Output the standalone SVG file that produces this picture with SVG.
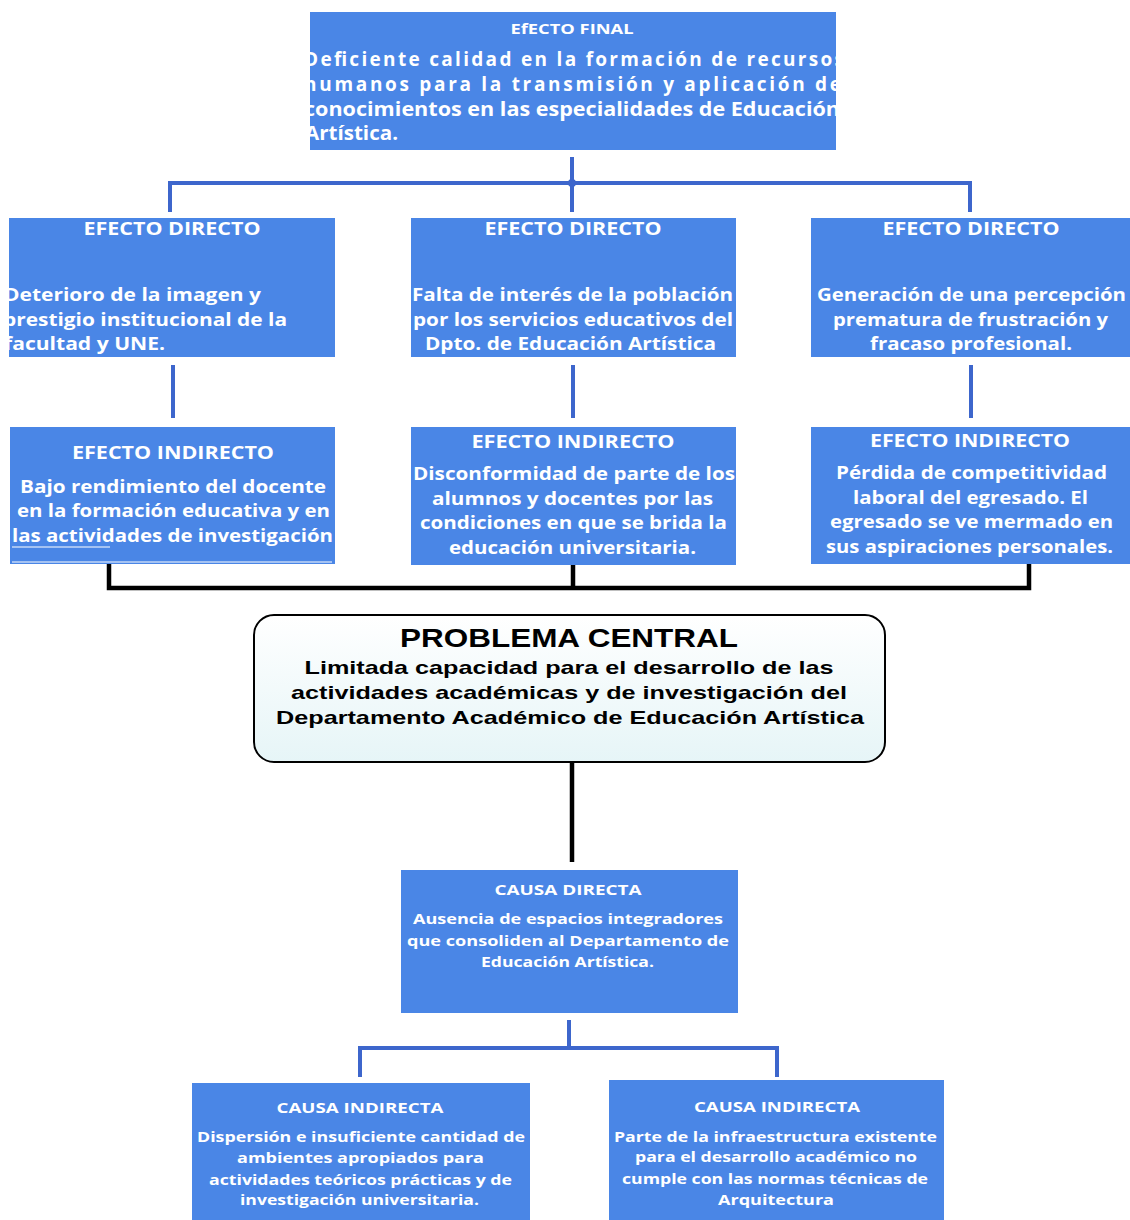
<svg xmlns="http://www.w3.org/2000/svg" width="1130" height="1220" viewBox="0 0 1130 1220">
<defs>
<style>
.box{fill:#4a86e6;}
.t{font-family:"Open Sans",Lato,"Liberation Sans",sans-serif;font-weight:700;fill:#ffffff;}
.h{font-size:18px;text-anchor:middle;}
.b{font-size:18px;}
.s{font-size:14.5px;}
.c{font-family:"Liberation Sans",Arial,sans-serif;font-weight:bold;fill:#000000;text-anchor:middle;}
.blue{stroke:#3d66cc;stroke-width:4;fill:none;}
.black{stroke:#000000;stroke-width:4.5;fill:none;}
</style>
<linearGradient id="pg" x1="0" y1="0" x2="0" y2="1">
<stop offset="0" stop-color="#ffffff"/>
<stop offset="1" stop-color="#e6f5f7"/>
</linearGradient>
<clipPath id="cf"><rect x="310" y="12" width="526" height="138"/></clipPath>
<clipPath id="cl"><rect x="9" y="218" width="326" height="139"/></clipPath>
<clipPath id="cr"><rect x="811" y="218" width="319" height="139"/></clipPath>
</defs>
<rect width="1130" height="1220" fill="#ffffff"/>

<g id="connectors">
<path class="blue" d="M572,157 V212 M170,212 V183 H970 V212"/>
<circle cx="572" cy="183" r="4" fill="#3d66cc"/>
<path class="blue" d="M173,365 V418 M573,365 V418 M971,365 V418"/>
<path class="black" d="M109,547 V588 H1029 V553 M573,553 V588"/>
<path class="black" stroke-width="5" d="M572,762 V862"/>
<path class="blue" d="M569,1020 V1048 M360,1077 V1048 H777 V1077"/>
</g>

<g id="efecto-final">
<rect class="box" x="310" y="12" width="526" height="138"/>
<text class="t" x="572" y="34" font-size="15" text-anchor="middle" textLength="123" lengthAdjust="spacingAndGlyphs">EfECTO FINAL</text>
<g clip-path="url(#cf)">
<text class="t" font-size="19" x="304" y="66" textLength="540" lengthAdjust="spacing">Deficiente calidad en la formación de recursos</text>
<text class="t" font-size="19" x="304" y="91" textLength="537" lengthAdjust="spacing">humanos para la transmisión y aplicación de</text>
<text class="t" font-size="19" x="304" y="116" textLength="536" lengthAdjust="spacingAndGlyphs">conocimientos en las especialidades de Educación</text>
<text class="t" font-size="19" x="305" y="140" textLength="93" lengthAdjust="spacingAndGlyphs">Artística.</text>
</g>
</g>

<g id="efecto-directo-1">
<rect class="box" x="9" y="218" width="326" height="139"/>
<text class="t h" x="172" y="235" textLength="177" lengthAdjust="spacingAndGlyphs">EFECTO DIRECTO</text>
<g clip-path="url(#cl)">
<text class="t b" x="4" y="301" textLength="257" lengthAdjust="spacingAndGlyphs">Deterioro de la imagen y</text>
<text class="t b" x="3" y="326" textLength="284" lengthAdjust="spacingAndGlyphs">prestigio institucional de la</text>
<text class="t b" x="4" y="350" textLength="161" lengthAdjust="spacingAndGlyphs">facultad y UNE.</text>
</g>
</g>

<g id="efecto-directo-2">
<rect class="box" x="411" y="218" width="325" height="139"/>
<text class="t h" x="573" y="235" textLength="177" lengthAdjust="spacingAndGlyphs">EFECTO DIRECTO</text>
<text class="t b" x="412" y="301" textLength="321" lengthAdjust="spacingAndGlyphs">Falta de interés de la población</text>
<text class="t b" x="413" y="326" textLength="320" lengthAdjust="spacingAndGlyphs">por los servicios educativos del</text>
<text class="t b" x="425" y="350" textLength="291" lengthAdjust="spacingAndGlyphs">Dpto. de Educación Artística</text>
</g>

<g id="efecto-directo-3">
<rect class="box" x="811" y="218" width="319" height="139"/>
<text class="t h" x="971" y="235" textLength="177" lengthAdjust="spacingAndGlyphs">EFECTO DIRECTO</text>
<g clip-path="url(#cr)">
<text class="t b" x="817" y="301" textLength="309" lengthAdjust="spacingAndGlyphs">Generación de una percepción</text>
<text class="t b" x="833" y="326" textLength="275" lengthAdjust="spacingAndGlyphs">prematura de frustración y</text>
<text class="t b" x="870" y="350" textLength="202" lengthAdjust="spacingAndGlyphs">fracaso profesional.</text>
</g>
</g>

<g id="efecto-indirecto-1">
<rect class="box" x="10" y="427" width="325" height="137"/>
<text class="t h" x="173" y="459" textLength="202" lengthAdjust="spacingAndGlyphs">EFECTO INDIRECTO</text>
<text class="t b" x="20" y="493" textLength="306" lengthAdjust="spacingAndGlyphs">Bajo rendimiento del docente</text>
<text class="t b" x="17" y="517" textLength="313" lengthAdjust="spacingAndGlyphs">en la formación educativa y en</text>
<text class="t b" x="12" y="542" textLength="321" lengthAdjust="spacingAndGlyphs">las actividades de investigación</text>
<path d="M12,547 H110 M12,562 H332" stroke="#ffffff" stroke-width="1" fill="none"/>
</g>

<g id="efecto-indirecto-2">
<rect class="box" x="411" y="427" width="325" height="138"/>
<text class="t h" x="573" y="448" textLength="203" lengthAdjust="spacingAndGlyphs">EFECTO INDIRECTO</text>
<text class="t b" x="413" y="480" textLength="322" lengthAdjust="spacingAndGlyphs">Disconformidad de parte de los</text>
<text class="t b" x="432" y="505" textLength="281" lengthAdjust="spacingAndGlyphs">alumnos y docentes por las</text>
<text class="t b" x="420" y="529" textLength="307" lengthAdjust="spacingAndGlyphs">condiciones en que se brida la</text>
<text class="t b" x="449" y="554" textLength="247" lengthAdjust="spacingAndGlyphs">educación universitaria.</text>
</g>

<g id="efecto-indirecto-3">
<rect class="box" x="811" y="427" width="319" height="137"/>
<text class="t h" x="970" y="447" textLength="200" lengthAdjust="spacingAndGlyphs">EFECTO INDIRECTO</text>
<text class="t b" x="836" y="479" textLength="271" lengthAdjust="spacingAndGlyphs">Pérdida de competitividad</text>
<text class="t b" x="853" y="504" textLength="235" lengthAdjust="spacingAndGlyphs">laboral del egresado. El</text>
<text class="t b" x="830" y="528" textLength="283" lengthAdjust="spacingAndGlyphs">egresado se ve mermado en</text>
<text class="t b" x="826" y="553" textLength="287" lengthAdjust="spacingAndGlyphs">sus aspiraciones personales.</text>
</g>

<g id="problema-central">
<rect x="254" y="615" width="631" height="147" rx="20" ry="20" fill="url(#pg)" stroke="#000000" stroke-width="2"/>
<text class="c" x="569" y="647" font-size="26" textLength="338" lengthAdjust="spacingAndGlyphs">PROBLEMA CENTRAL</text>
<text class="c" x="569" y="674" font-size="19" textLength="529" lengthAdjust="spacingAndGlyphs">Limitada capacidad para el desarrollo de las</text>
<text class="c" x="569" y="699" font-size="19" textLength="556" lengthAdjust="spacingAndGlyphs">actividades académicas y de investigación del</text>
<text class="c" x="570" y="724" font-size="19" textLength="588" lengthAdjust="spacingAndGlyphs">Departamento Académico de Educación Artística</text>
</g>

<g id="causa-directa">
<rect class="box" x="401" y="870" width="337" height="143"/>
<text class="t" x="568" y="895" font-size="15" text-anchor="middle" textLength="147" lengthAdjust="spacingAndGlyphs">CAUSA DIRECTA</text>
<text class="t s" x="413" y="924" textLength="310" lengthAdjust="spacingAndGlyphs">Ausencia de espacios integradores</text>
<text class="t s" x="407" y="946" textLength="322" lengthAdjust="spacingAndGlyphs">que consoliden al Departamento de</text>
<text class="t s" x="481" y="967" textLength="173" lengthAdjust="spacingAndGlyphs">Educación Artística.</text>
</g>

<g id="causa-indirecta-1">
<rect class="box" x="192" y="1083" width="338" height="137"/>
<text class="t" x="360" y="1113" font-size="15" text-anchor="middle" textLength="167" lengthAdjust="spacingAndGlyphs">CAUSA INDIRECTA</text>
<text class="t s" x="197" y="1142" textLength="328" lengthAdjust="spacingAndGlyphs">Dispersión e insuficiente cantidad de</text>
<text class="t s" x="237" y="1163" textLength="247" lengthAdjust="spacingAndGlyphs">ambientes apropiados para</text>
<text class="t s" x="209" y="1185" textLength="303" lengthAdjust="spacingAndGlyphs">actividades teóricos prácticas y de</text>
<text class="t s" x="240" y="1205" textLength="239" lengthAdjust="spacingAndGlyphs">investigación universitaria.</text>
</g>

<g id="causa-indirecta-2">
<rect class="box" x="609" y="1080" width="335" height="140"/>
<text class="t" x="777" y="1112" font-size="15" text-anchor="middle" textLength="166" lengthAdjust="spacingAndGlyphs">CAUSA INDIRECTA</text>
<text class="t s" x="614" y="1142" textLength="323" lengthAdjust="spacingAndGlyphs">Parte de la infraestructura existente</text>
<text class="t s" x="635" y="1162" textLength="282" lengthAdjust="spacingAndGlyphs">para el desarrollo académico no</text>
<text class="t s" x="622" y="1184" textLength="306" lengthAdjust="spacingAndGlyphs">cumple con las normas técnicas de</text>
<text class="t s" x="718" y="1205" textLength="116" lengthAdjust="spacingAndGlyphs">Arquitectura</text>
</g>
</svg>
